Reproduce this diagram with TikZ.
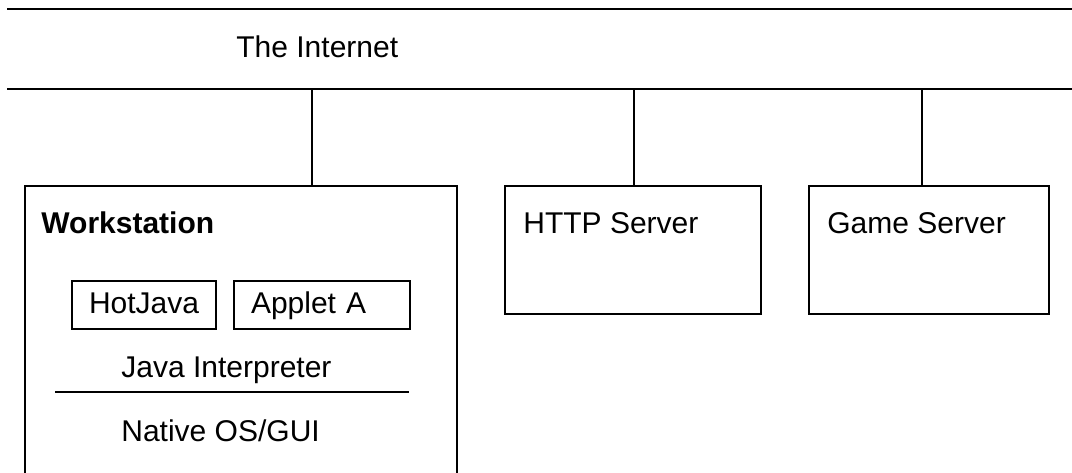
\documentclass[tikz,border=0pt]{standalone}
\usepackage{fontspec}
\setmainfont{Liberation Sans}
\usetikzlibrary{positioning}
\begin{document}
\begin{tikzpicture}[
    x=0.5pt, y=-0.5pt,
    every node/.style={font=\fontsize{15pt}{18pt}\selectfont, inner sep=0pt},
    wire/.style={line width=1pt},
    hostbox/.style={draw, line width=1pt, anchor=north west},
    appbox/.style={draw, line width=1pt, inner xsep=8.5pt, inner ysep=5pt,
                   text height=11pt, text depth=3pt, align=left},
    tag/.style={anchor=base west}
  ]
  \useasboundingbox (0,0) rectangle (1072,472);
  \clip (0,0) rectangle (1072,472);

  % the network
  \coordinate (netTopL) at (7,9);
  \coordinate (netTopR) at (1072,9);
  \coordinate (netL) at (7,89);
  \coordinate (netR) at (1072,89);
  \draw[wire] (netTopL) -- (netTopR);
  \draw[wire] (netL) -- (netR);
  \node[tag] (net) at (236,57) {The Internet};

  % hosts
  \node[hostbox, minimum width=216pt, minimum height=144.5pt] (ws) at (24,185) {};
  \node[hostbox, minimum width=128pt, minimum height=64pt] (http) at (504,185) {};
  \node[hostbox, minimum width=120pt, minimum height=64pt] (game) at (808,185) {};

  \node[tag, font=\fontsize{15pt}{18pt}\selectfont\bfseries] (wslabel) at (41,233) {Workstation};
  \node[tag] (httplabel) at (523,233) {HTTP Server};
  \node[tag] (gamelabel) at (827,233) {Game Server};

  % workstation layers
  \node[appbox, text width=55pt] (hotjava) at (144,305) {HotJava};
  \node[appbox, text width=71pt, right=8pt of hotjava] (applet) {Applet A};
  \node[tag] (interp) at (121,377) {Java Interpreter};
  \coordinate (sepL) at (55,392);
  \coordinate (sepR) at (409,392);
  \draw[wire] (sepL) -- (sepR);
  \node[tag] (native) at (121,441) {Native OS/GUI};

  % taps
  \coordinate (tapws) at (312,89);
  \coordinate (taphttp) at (634,89);
  \coordinate (tapgame) at (922,89);
  \draw[wire] (tapws) -- (tapws |- ws.north);
  \draw[wire] (taphttp) -- (taphttp |- http.north);
  \draw[wire] (tapgame) -- (tapgame |- game.north);
\end{tikzpicture}
\end{document}
